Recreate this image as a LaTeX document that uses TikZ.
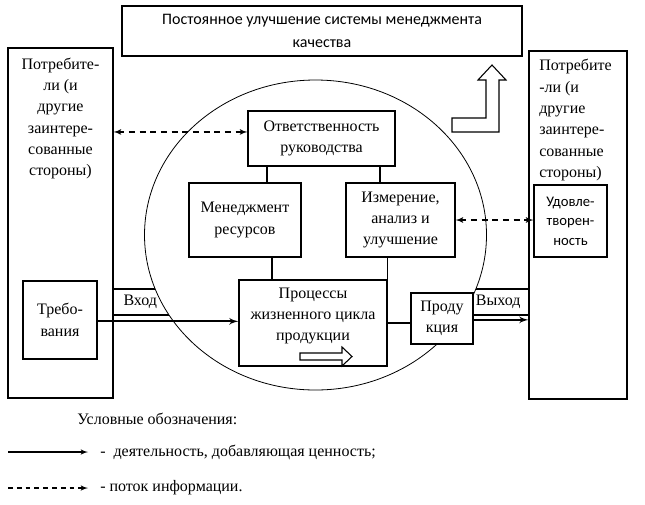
\documentclass[tikz,border=0pt]{standalone}
\usepackage{fontspec}
\setmainfont{Liberation Serif}
\newfontfamily\sansfnt{Carlito}
\usepackage{tikz}
\usetikzlibrary{shapes,arrows,positioning}
\tikzstyle{block} = [rectangle, draw, fill=white, line width=0.8pt, inner sep=0pt,
    align=center, font=\fontsize{12}{16}\selectfont]
\tikzstyle{txt} = [inner sep=0pt, font=\fontsize{12}{16}\selectfont]
\tikzstyle{band} = [rectangle, draw, line width=0.8pt, inner ysep=0pt, minimum height=19.5pt,
    font=\fontsize{12}{16}\selectfont]
\tikzstyle{line} = [draw, -latex', line width=1.4pt]
\tikzstyle{link} = [draw, line width=1.3pt]
\tikzstyle{info} = [draw, latex'-latex', line width=1pt, dash pattern=on 4.5pt off 3.5pt]

\begin{document}
\begin{tikzpicture}[x=0.75pt, y=-0.75pt]
		\useasboundingbox (0,0) rectangle (645,504);
		% bands under the circle
		\node [band, anchor=west, inner xsep=7.5pt, text width=35.25pt, align=left] (inL) at (113,302) {Вход};
		\node [band, anchor=east, inner xsep=6pt, text width=54.75pt, align=right] (outR) at (529,302) {Выход};
		\draw [fill=white, line width=0.6pt] (315.5,235) ellipse [x radius=171, y radius=155];
		
		% node placement
		\node [block, minimum width=300pt, minimum height=37.5pt, font=\sansfnt\fontsize{12}{17}\selectfont] (improve) at (322,31) {Постоянное улучшение системы менеджмента\\качества};
		\node [block, minimum width=78.75pt, minimum height=262.5pt] (custL) at (60.5,223) {};
		\node [txt, align=center] (custLtxt) at (60.5,118.5) {Потребите-\\ли (и\\другие\\заинтере-\\сованные\\стороны)};
		\node [block, minimum width=55.5pt, minimum height=58.5pt] (reqs) at (60,320) {Требо-\\вания};
		\node [block, minimum width=73.5pt, minimum height=261pt] (custR) at (578,225) {};
		\node [txt, align=left, anchor=west] (custRtxt) at (539,120) {Потребите\\-ли (и\\другие\\заинтере-\\сованные\\стороны)};
		\node [block, minimum width=54.75pt, minimum height=54pt, font=\sansfnt\fontsize{11}{14.6}\selectfont] (satisf) at (570.5,221) {Удовле-\\творен-\\ность};
		\node [block, minimum width=110.25pt, minimum height=41.25pt] (resp) at (321.5,138.5) {Ответственность\\руководства};
		\node [block, minimum width=84pt, minimum height=55.5pt] (mgmt) at (245,220) {Менеджмент\\ресурсов};
		\node [block, minimum width=81.75pt, minimum height=55.5pt] (meas) at (400.5,220) {Измерение,\\анализ и\\улучшение};
		\node [block, minimum width=111pt, minimum height=64.5pt] (procs) at (313,323) {};
		\node [txt, align=center] (procstxt) at (313,316) {Процессы\\жизненного цикла\\продукции};
		\node [block, minimum width=46.5pt, minimum height=38.25pt] (prod) at (442,318.5) {Проду\\кция};
		
		% hollow arrows
		\draw [line width=0.8pt, fill=white] (300,353) -- (342,353) -- (342,347) -- (352,356.5) -- (342,366) -- (342,360) -- (300,360) -- cycle;
		\draw [line width=0.8pt, fill=white] (452,118) -- (486,118) -- (486,80) -- (478,80) -- (492,65) -- (506,80) -- (499,80) -- (499,132) -- (452,132) -- cycle;
		
		% links
		\path[link] ([xshift=-41pt]resp.south) -- ([xshift=-41pt]resp.south |- mgmt.north);
		\path[link] ([xshift=44pt]resp.south) -- ([xshift=44pt]resp.south |- meas.north);
		\path[link] ([xshift=20pt]mgmt.south) -- ([xshift=20pt]mgmt.south |- procs.north);
		\path[link] (procs.north east |- meas.south) -- (procs.north east);
		\path[link] (prod.west |- procs.east) -- (procs.east);
		
		\path[line] ([yshift=-1pt]reqs.east) -- ([yshift=-1pt]reqs.east -| procs.west);
		\path[line] ([yshift=-1pt]prod.east) -- ([yshift=-1pt]prod.east -| custR.west);
		\path[info] ([yshift=4.9pt]resp.west -| custL.east) -- ([yshift=4.9pt]resp.west);
		\path[info] (meas.east) -- (meas.east -| satisf.west);
		
		% legend
		\node [txt, anchor=west] (legend) at (77,419) {Условные обозначения:};
		\coordinate (solidA) at (8,452);
		\coordinate (solidB) at (88,452);
		\coordinate (dashA) at (8,488);
		\coordinate (dashB) at (88,488);
		\path[draw, -latex', line width=0.9pt] (solidA) -- (solidB);
		\path[draw, -latex', line width=0.9pt, dash pattern=on 3.6pt off 3pt] (dashA) -- (dashB);
		\node [txt, anchor=west] (legsolid) at (100,452) {-\ \ деятельность, добавляющая ценность;};
		\node [txt, anchor=west] (legdash) at (100,488) {- поток информации.};
	\end{tikzpicture}
\end{document}
